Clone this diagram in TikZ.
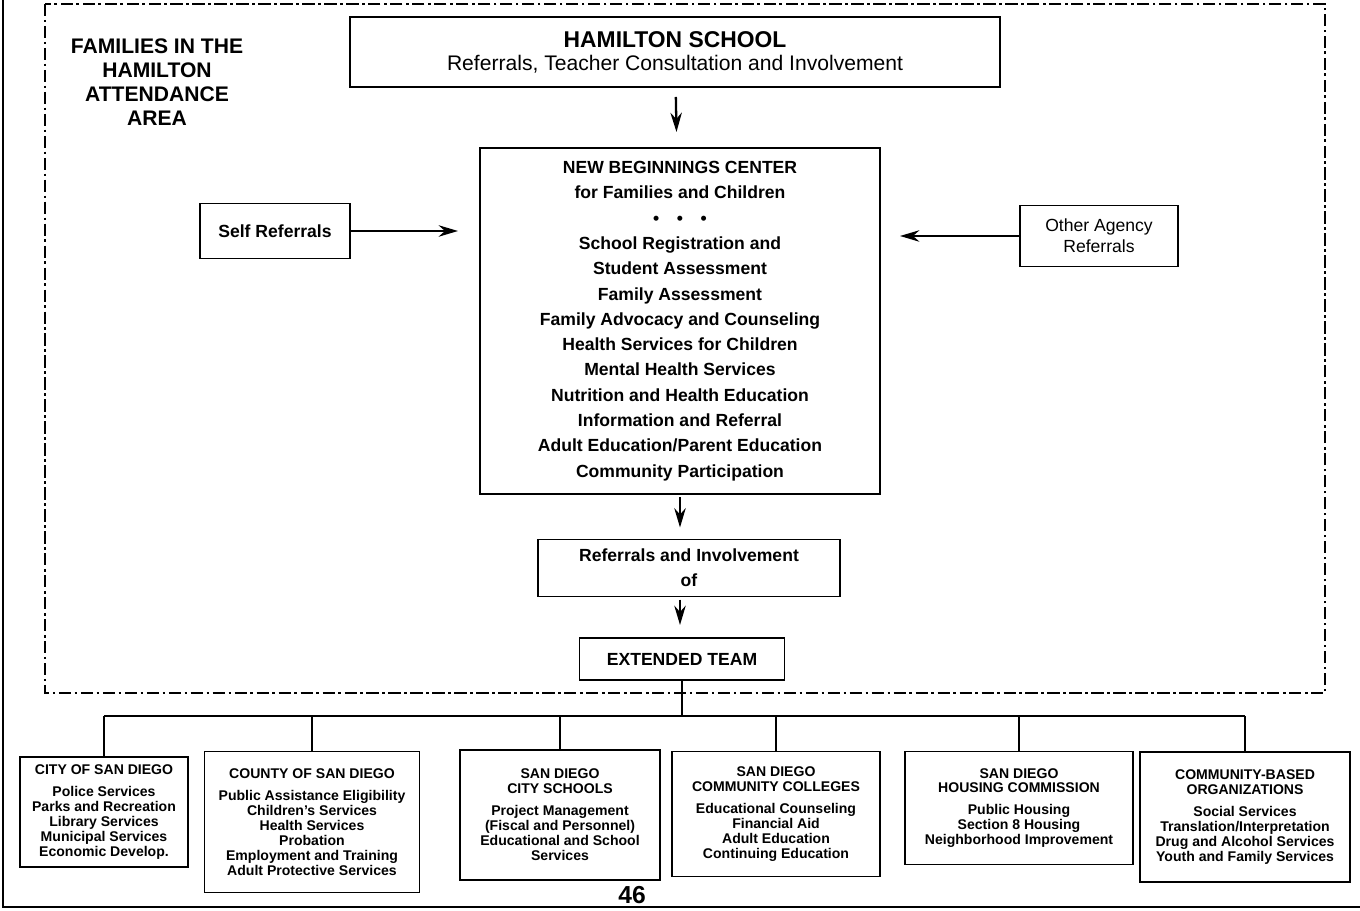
\documentclass[tikz,border=0pt]{standalone}
\usepackage{fontspec}
\setmainfont{Liberation Sans}
\usetikzlibrary{arrows.meta}
\begin{document}
\begin{tikzpicture}[x=0.2mm,y=-0.2mm,line width=1pt,outer sep=0pt,
    box/.style={draw,rectangle,align=center,inner sep=2pt},
    body/.style={font=\bfseries\fontsize{10}{14.4}\selectfont},
    agency/.style={box,font=\bfseries\fontsize{8}{8.5}\selectfont},
    arr/.style={-{Stealth[length=11pt,width=6.5pt]},line width=1.3pt},
    area/.style={line width=1pt,dash pattern=on 7pt off 2pt on 1.5pt off 2pt}]
    \useasboundingbox (0,0) rectangle (1360,911);
    % page edge and attendance area
    \draw (3,0) -- (3,907) -- (1360,907);
    \draw[area] (45,4) rectangle (1325,693);
    \node[align=center,font=\bfseries\fontsize{12}{13.6}\selectfont] (fam) at (157,82)
      {FAMILIES IN THE\\HAMILTON\\ATTENDANCE\\AREA};
    \node[box,minimum width=130mm,minimum height=14mm] (ham) at (675,52)
      {{\bfseries\fontsize{13}{14}\selectfont HAMILTON SCHOOL}\\[1pt]
       \fontsize{12}{13}\selectfont Referrals, Teacher Consultation and Involvement};
    \node[box,body,minimum width=80mm,minimum height=69.2mm] (nbc) at (680,321)
      {NEW BEGINNINGS CENTER\\for Families and Children\\
       \textbullet\quad\textbullet\quad\textbullet\\
       School Registration and\\Student Assessment\\Family Assessment\\
       Family Advocacy and Counseling\\Health Services for Children\\
       Mental Health Services\\Nutrition and Health Education\\
       Information and Referral\\Adult Education/Parent Education\\
       Community Participation};
    \node[box,body,minimum width=30mm,minimum height=11mm] (self) at (275,231) {Self Referrals};
    \node[box,minimum width=31.6mm,minimum height=12.2mm,font=\fontsize{10}{12}\selectfont]
      (other) at (1099,236) {Other Agency\\Referrals};
    \node[box,body,minimum width=60.4mm,minimum height=11.4mm] (ref) at (689,568)
      {Referrals and Involvement\\of};
    \node[box,body,minimum width=41mm,minimum height=8.4mm] (ext) at (682,659) {EXTENDED TEAM};
    % extended team members
    \node[agency,minimum width=33.6mm,minimum height=22mm] (city) at (104,812)
      {CITY OF SAN DIEGO\\[4pt]Police Services\\Parks and Recreation\\Library Services\\
       Municipal Services\\Economic Develop.};
    \node[agency,minimum width=43mm,minimum height=28.2mm] (county) at (312,822)
      {COUNTY OF SAN DIEGO\\[4pt]Public Assistance Eligibility\\Children's Services\\
       Health Services\\Probation\\Employment and Training\\Adult Protective Services};
    \node[agency,minimum width=40mm,minimum height=26mm] (schools) at (560,815)
      {SAN DIEGO\\CITY SCHOOLS\\[4pt]Project Management\\(Fiscal and Personnel)\\
       Educational and School\\Services};
    \node[agency,minimum width=41.6mm,minimum height=25mm] (college) at (776,814)
      {SAN DIEGO\\COMMUNITY COLLEGES\\[4pt]Educational Counseling\\Financial Aid\\
       Adult Education\\Continuing Education};
    \node[agency,minimum width=45.6mm,minimum height=22.6mm] (housing) at (1019,808)
      {SAN DIEGO\\HOUSING COMMISSION\\[4pt]Public Housing\\Section 8 Housing\\
       Neighborhood Improvement};
    \node[agency,minimum width=42mm,minimum height=26mm] (cbo) at (1245,817)
      {COMMUNITY-BASED\\ORGANIZATIONS\\[4pt]Social Services\\Translation/Interpretation\\
       Drug and Alcohol Services\\Youth and Family Services};
    \node[font=\bfseries\fontsize{14}{14}\selectfont] (pg) at (632,895) {46};
    \path[arr]
      (ham) edge [shorten <=2mm,shorten >=3.2mm] (nbc)
      (self) edge [shorten >=4.4mm] (self -| nbc.west)
      (other) edge [shorten >=4mm] (other -| nbc.east)
      (nbc) edge [shorten <=0.6mm,shorten >=2.4mm] (nbc.south |- ref.north)
      (ref.south -| nbc.south) edge [shorten <=0.6mm,shorten >=2.6mm] (nbc.south |- ext.north);
    \coordinate (bus) at (682,716);
    \draw (ext) -- (bus);
    \draw (city.north |- bus) -- (cbo.north |- bus);
    \foreach \a in {city,county,schools,college,housing,cbo}
      \draw (\a.north) -- (\a.north |- bus);
\end{tikzpicture}
\end{document}
